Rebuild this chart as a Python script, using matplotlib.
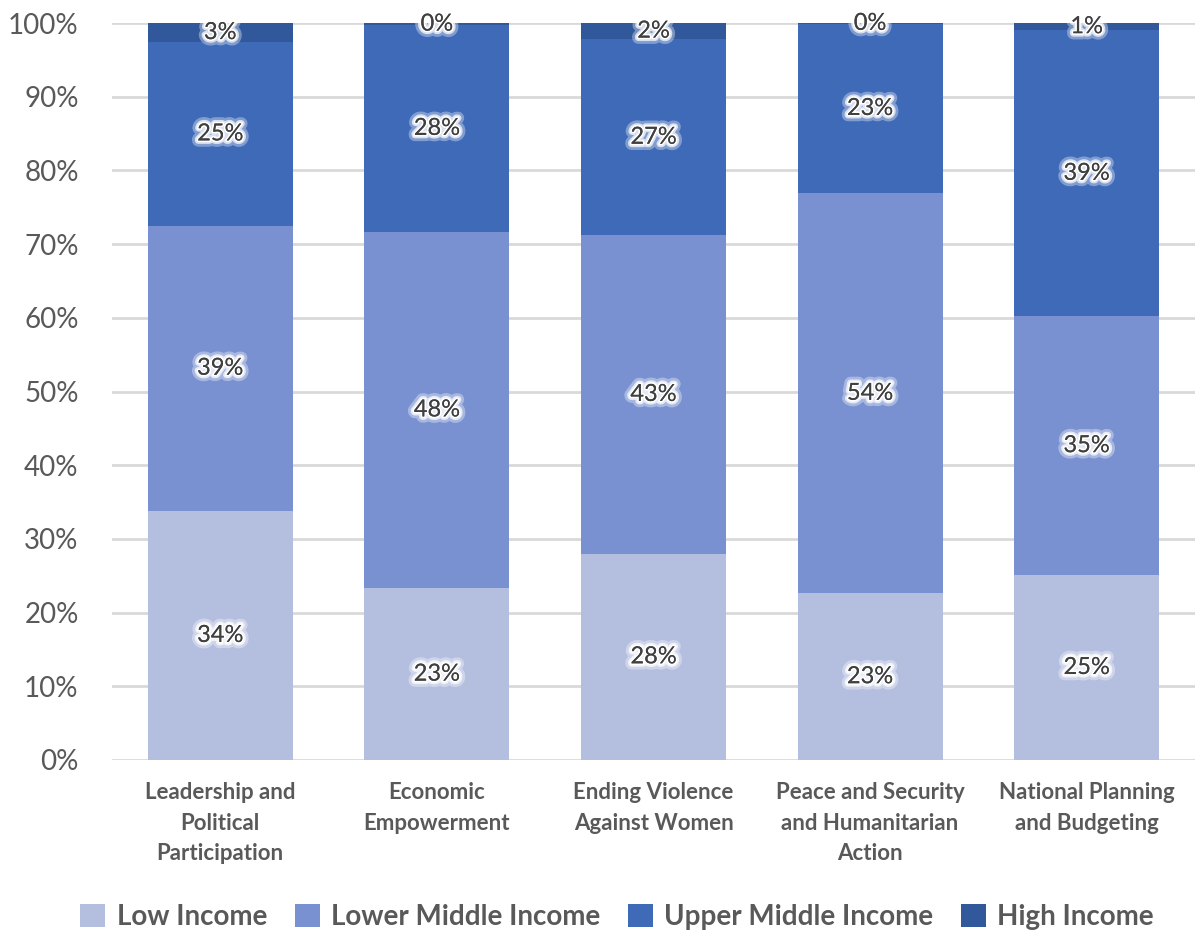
import numpy as np
import matplotlib
matplotlib.use("Agg")
from matplotlib import pyplot as plt
from matplotlib import patheffects as pe
from matplotlib.ticker import PercentFormatter

categories = [
    "Leadership and\nPolitical\nParticipation",
    "Economic\nEmpowerment",
    "Ending Violence\nAgainst Women",
    "Peace and Security\nand Humanitarian\nAction",
    "National Planning\nand Budgeting",
]
series_names = ["Low Income", "Lower Middle Income", "Upper Middle Income", "High Income"]
low_income = [33.8, 23.3, 28.0, 22.6, 25.1]
lower_middle = [38.7, 48.4, 43.2, 54.3, 35.1]
upper_middle = [24.9, 28.0, 26.6, 23.0, 38.8]
high_income = [2.6, 0.3, 2.2, 0.1, 1.0]
colors = ["#b4bfe0", "#7991d0", "#3e6ab8", "#30589b"]

text_gray = "#595959"

fig = plt.figure(figsize=(11.97, 9.33), dpi=100)
ax = fig.add_axes([112 / 1197, 1 - 760 / 933, 1083 / 1197, (760 - 23) / 933])

x = np.arange(len(categories))
bottom = np.zeros(len(categories))
# soft white glow behind the data labels
halo = [pe.withStroke(linewidth=9, foreground="white", alpha=0.35),
        pe.withStroke(linewidth=5, foreground="white", alpha=0.7),
        pe.withStroke(linewidth=2.5, foreground="white", alpha=1.0),
        pe.Normal()]
for name, vals, col in zip(series_names, [low_income, lower_middle, upper_middle, high_income], colors):
    vals = np.array(vals)
    ax.bar(x, vals, 0.67, bottom=bottom, color=col, label=name, zorder=2)
    for xi, b, v in zip(x, bottom, vals):
        ax.text(xi, b + v / 2, f"{v:.0f}%", ha="center", va="center",
                fontsize=17, color="#404040", family="Lato",
                path_effects=halo, zorder=3)
    bottom += vals

ax.set_xlim(-0.5, len(categories) - 0.5)
ax.set_ylim(0, 100)
ax.set_yticks(np.arange(0, 101, 10))
ax.yaxis.set_major_formatter(PercentFormatter(decimals=0))
ax.grid(axis="y", color="#d9d9d9", linewidth=2, zorder=0)
for s in ax.spines.values():
    s.set_visible(False)
ax.tick_params(axis="both", length=0)
ax.tick_params(axis="y", pad=24, labelsize=20, labelcolor=text_gray)
for lab in ax.get_yticklabels():
    lab.set_family("Lato")

ax.set_xticks(x)
ax.set_xticklabels(categories, fontsize=16, fontweight="bold", color=text_gray,
                   family="Lato", linespacing=1.55)
ax.tick_params(axis="x", pad=16)

leg = fig.legend(loc="center", bbox_to_anchor=(617 / 1197, 1 - 917 / 933), ncol=4,
                 frameon=False, handlelength=0.9, handleheight=0.9, handletextpad=0.4,
                 columnspacing=1.0, prop={"family": "Lato", "weight": "bold", "size": 20})
for t in leg.get_texts():
    t.set_color(text_gray)

fig.savefig("out.png", dpi=100)
